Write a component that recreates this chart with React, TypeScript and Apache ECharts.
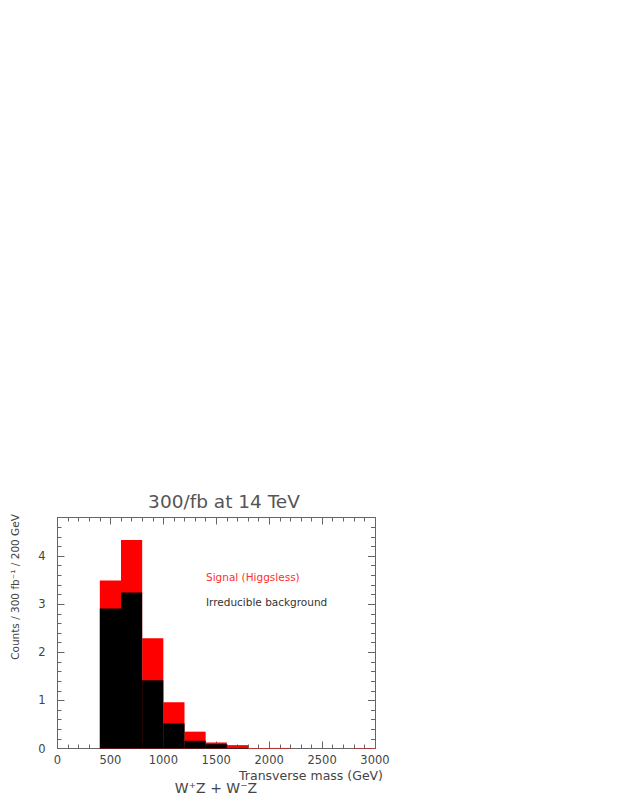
import { useRef, useEffect } from 'react';
import * as echarts from 'echarts';

// histogram bins, 200 GeV wide
const binStarts = [400, 600, 800, 1000, 1200, 1400, 1600, 1800, 2000, 2200, 2400, 2600, 2800];
const binWidth = 200;
const background = [2.91, 3.24, 1.42, 0.52, 0.16, 0.09, 0.01, 0, 0, 0, 0, 0, 0];
const signal = [0.58, 1.09, 0.87, 0.44, 0.19, 0.035, 0.06, 0.012, 0.012, 0, 0, 0, 0.008];

const FONT = '"DejaVu Sans", sans-serif';
const AXIS_COLOR = '#666';
const TEXT_COLOR = '#444';

export default function App() {
  const chartRef = useRef<HTMLDivElement>(null);

  useEffect(() => {
    let chart: echarts.ECharts | undefined;

    if (chartRef.current) {
      chart = echarts.init(chartRef.current, undefined, { renderer: 'svg' });

      const totalData = binStarts.map((s, i) => [s, s + binWidth, 0, background[i] + signal[i]]);
      const bgData = binStarts.map((s, i) => [s, s + binWidth, 0, background[i]]);

      const renderBin = (color: string) => (_params: any, api: any) => {
        const p0 = api.coord([api.value(0), api.value(3)]);
        const p1 = api.coord([api.value(1), api.value(2)]);
        return {
          type: 'rect',
          shape: { x: p0[0], y: p0[1], width: p1[0] - p0[0], height: p1[1] - p0[1] },
          style: { fill: color },
        };
      };

      const xCommon = {
        type: 'value' as const,
        min: 0,
        max: 3000,
        interval: 500,
        splitLine: { show: false },
        axisLine: { show: true, onZero: false, lineStyle: { color: AXIS_COLOR, width: 1 } },
        axisTick: { inside: true, length: 7, lineStyle: { color: AXIS_COLOR } },
        minorTick: { show: true, splitNumber: 5, length: 4, lineStyle: { color: AXIS_COLOR } },
      };
      const yCommon = {
        type: 'value' as const,
        min: 0,
        max: 4.8,
        interval: 1,
        splitLine: { show: false },
        axisLine: { show: true, onZero: false, lineStyle: { color: AXIS_COLOR, width: 1 } },
        axisTick: { inside: true, length: 7, lineStyle: { color: AXIS_COLOR } },
        minorTick: { show: true, splitNumber: 5, length: 4, lineStyle: { color: AXIS_COLOR } },
      };

      chart.setOption({
        animation: false,
        grid: { left: 57.5, right: 248, top: 517.5, bottom: 57.5 },
        xAxis: [
          {
            ...xCommon,
            position: 'bottom',
            axisLabel: {
              color: TEXT_COLOR,
              fontFamily: FONT,
              fontSize: 11.5,
              margin: 5,
              formatter: (v: number) => String(v),
            },
          },
          { ...xCommon, position: 'top', axisLabel: { show: false } },
        ],
        yAxis: [
          {
            ...yCommon,
            position: 'left',
            axisLabel: {
              color: TEXT_COLOR,
              fontFamily: FONT,
              fontSize: 11.5,
              margin: 12,
              formatter: (v: number) => (Number.isInteger(v) ? String(v) : ''),
            },
          },
          { ...yCommon, position: 'right', axisLabel: { show: false } },
        ],
        series: [
          {
            type: 'custom',
            name: 'Signal (Higgsless)',
            renderItem: renderBin('#ff0000'),
            encode: { x: [0, 1], y: [2, 3] },
            data: totalData,
            z: 2,
          },
          {
            type: 'custom',
            name: 'Irreducible background',
            renderItem: renderBin('#000000'),
            encode: { x: [0, 1], y: [2, 3] },
            data: bgData,
            z: 3,
          },
        ],
        graphic: [
          {
            type: 'text',
            x: 224,
            y: 501,
            style: {
              text: '300/fb at 14 TeV',
              fill: '#555',
              font: `18.5px ${FONT}`,
              align: 'center',
              verticalAlign: 'middle',
            },
          },
          {
            type: 'text',
            x: 206,
            y: 577,
            style: {
              text: 'Signal (Higgsless)',
              fill: '#ff3030',
              font: `10.5px ${FONT}`,
              verticalAlign: 'middle',
            },
          },
          {
            type: 'text',
            x: 206,
            y: 602,
            style: {
              text: 'Irreducible background',
              fill: '#333',
              font: `10.5px ${FONT}`,
              verticalAlign: 'middle',
            },
          },
          {
            type: 'text',
            x: 15,
            y: 587,
            rotation: Math.PI / 2,
            style: {
              text: 'Counts / 300 fb⁻¹ / 200 GeV',
              fill: TEXT_COLOR,
              font: `10.5px ${FONT}`,
              align: 'center',
              verticalAlign: 'middle',
            },
          },
          {
            type: 'text',
            x: 383,
            y: 775,
            style: {
              text: 'Transverse mass (GeV)',
              fill: TEXT_COLOR,
              font: `12.5px ${FONT}`,
              align: 'right',
              verticalAlign: 'middle',
            },
          },
          {
            type: 'text',
            x: 216,
            y: 788,
            style: {
              text: 'W⁺Z + W⁻Z',
              fill: TEXT_COLOR,
              font: `14px ${FONT}`,
              align: 'center',
              verticalAlign: 'middle',
            },
          },
        ],
      });
    }

    return () => {
      chart?.dispose();
    };
  }, []);

  return (
    <div
      ref={chartRef}
      style={{ position: 'absolute', left: 0, top: 0, width: 623, height: 806, background: '#fff' }}
    />
  );
}
